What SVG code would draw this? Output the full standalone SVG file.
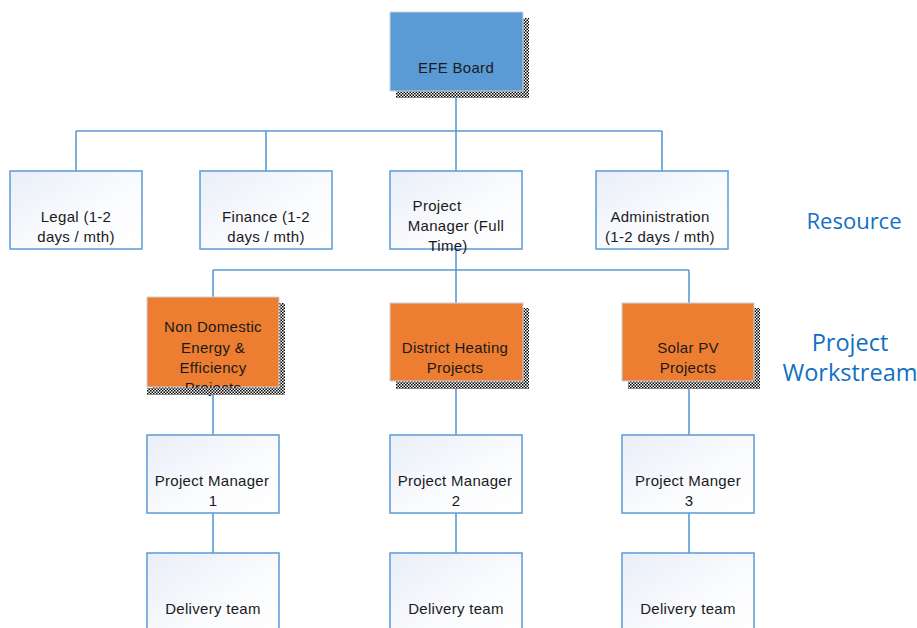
<svg xmlns="http://www.w3.org/2000/svg" width="917" height="628" viewBox="0 0 917 628">
<defs>
<linearGradient id="boxg" x1="0" y1="0" x2="1" y2="1">
<stop offset="0" stop-color="#e9eef8"/>
<stop offset="0.6" stop-color="#fbfcfe"/>
<stop offset="1" stop-color="#ffffff"/>
</linearGradient>
<pattern id="chk" width="3" height="3" patternUnits="userSpaceOnUse">
<rect width="3" height="3" fill="#ffffff"/>
<rect x="0" y="0" width="1.5" height="1.5" fill="#000"/>
<rect x="1.5" y="1.5" width="1.5" height="1.5" fill="#000"/>
</pattern>
<style>
.box{fill:url(#boxg);stroke:#5b9bd5;stroke-width:1.5}
.blue{fill:#5b9bd5;stroke:#c9d3df;stroke-width:1}
.orange{fill:#ed7d31;stroke:#c9d3df;stroke-width:1}
.sh{fill:url(#chk)}
.t{font-family:"Liberation Sans",Arial,sans-serif;font-size:15px;letter-spacing:0.3px;fill:#1a1a1a;text-anchor:middle}
.side{font-family:"Open Sans","Liberation Sans",sans-serif;font-size:22px;fill:#1170c2;text-anchor:middle}
.side2{font-family:"Open Sans","Liberation Sans",sans-serif;font-size:23.5px;fill:#1170c2;text-anchor:middle}
.c{fill:none;stroke:#5b9bd5;stroke-width:1.6}
</style>
</defs>
<rect width="917" height="628" fill="#ffffff"/>

<g id="connectors">
<path class="c" d="M456 91V131M76 131H662M76 131V171M266 131V171M456 131V171M662 131V171"/>
<path class="c" d="M456 249V303M213 270H689M213 270V297M689 270V303"/>
<path class="c" d="M213 387V435M456 381V435M689 381V435"/>
<path class="c" d="M213 513V553M456 513V553M689 513V553"/>
</g>

<g id="efe-board">
<rect class="sh" x="396" y="18" width="133" height="80"/>
<rect class="blue" x="390" y="12" width="133" height="79"/>
<text class="t" x="456" y="73">EFE Board</text>
</g>

<g id="legal">
<rect class="box" x="10" y="171" width="132" height="78"/>
<text class="t" x="76" y="222">Legal (1-2</text>
<text class="t" x="76" y="242">days / mth)</text>
</g>

<g id="finance">
<rect class="box" x="200" y="171" width="132" height="78"/>
<text class="t" x="266" y="222">Finance (1-2</text>
<text class="t" x="266" y="242">days / mth)</text>
</g>

<g id="project-manager">
<rect class="box" x="390" y="171" width="132" height="78"/>
<text class="t" x="437" y="211">Project</text>
<text class="t" x="456" y="231">Manager (Full</text>
<text class="t" x="448" y="251">Time)</text>
</g>

<g id="administration">
<rect class="box" x="596" y="171" width="132" height="78"/>
<text class="t" x="660" y="222">Administration</text>
<text class="t" x="660" y="242">(1-2 days / mth)</text>
</g>

<text class="side" x="854" y="229">Resource</text>
<text class="side2" x="850" y="351">Project</text>
<text class="side2" x="850" y="381">Workstream</text>

<g id="non-domestic">
<rect class="sh" x="153" y="303" width="132" height="92"/>
<rect class="orange" x="147" y="297" width="132" height="90"/>
<text class="t" x="213" y="332">Non Domestic</text>
<text class="t" x="213" y="353">Energy &amp;</text>
<text class="t" x="213" y="373">Efficiency</text>
<text class="t" x="213" y="393">Projects</text>
<rect class="sh" x="147" y="388" width="138" height="7"/>
</g>

<g id="district-heating">
<rect class="sh" x="396" y="308" width="133" height="81"/>
<rect class="orange" x="390" y="303" width="133" height="78"/>
<text class="t" x="455" y="353">District Heating</text>
<text class="t" x="455" y="373">Projects</text>
</g>

<g id="solar-pv">
<rect class="sh" x="628" y="308" width="132" height="81"/>
<rect class="orange" x="622" y="303" width="132" height="78"/>
<text class="t" x="688" y="353">Solar PV</text>
<text class="t" x="688" y="373">Projects</text>
</g>

<g id="pm1">
<rect class="box" x="147" y="435" width="132" height="78"/>
<text class="t" x="212" y="486">Project Manager</text>
<text class="t" x="213" y="506">1</text>
</g>
<g id="pm2">
<rect class="box" x="390" y="435" width="132" height="78"/>
<text class="t" x="455" y="486">Project Manager</text>
<text class="t" x="456" y="506">2</text>
</g>
<g id="pm3">
<rect class="box" x="622" y="435" width="132" height="78"/>
<text class="t" x="688" y="486">Project Manger</text>
<text class="t" x="689" y="506">3</text>
</g>

<g id="delivery1">
<rect class="box" x="147" y="553" width="132" height="90"/>
<text class="t" x="213" y="614">Delivery team</text>
</g>
<g id="delivery2">
<rect class="box" x="390" y="553" width="132" height="90"/>
<text class="t" x="456" y="614">Delivery team</text>
</g>
<g id="delivery3">
<rect class="box" x="622" y="553" width="132" height="90"/>
<text class="t" x="688" y="614">Delivery team</text>
</g>
</svg>
